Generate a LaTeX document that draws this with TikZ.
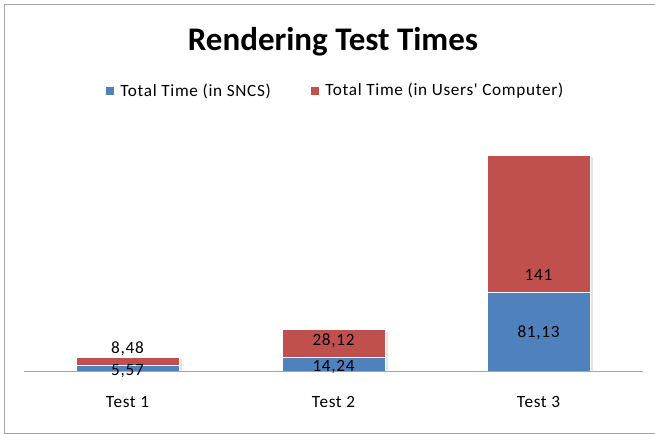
\documentclass[tikz,border=0pt]{standalone}
\usepackage{fontspec}
\setmainfont{Carlito}
\newfontfamily\chartfont[LetterSpace=4]{Carlito}
\usetikzlibrary{positioning}
\definecolor{sncsblue}{RGB}{79,129,189}
\definecolor{userred}{RGB}{192,80,77}
\definecolor{framegray}{RGB}{165,165,165}

\begin{document}
\begin{tikzpicture}[x=1pt,y=-1pt,
    barpart/.style={draw=white,line width=0.7pt},
    valtext/.style={font=\chartfont\fontsize{17.2}{17.2}\selectfont,inner sep=0pt},
    cattext/.style={font=\chartfont\fontsize{17.2}{17.2}\selectfont,inner sep=0pt},
    keybox/.style={minimum size=8pt,inner sep=0pt}]
    \useasboundingbox (0,0) rectangle (655,435);
    % frame
    \draw[framegray,line width=1.5pt] (662,4.5) -- (4.5,4.5) -- (4.5,433.5) -- (662,433.5);
    % title and legend
    \node (title) at (333,42) {\fontsize{33}{33}\selectfont\bfseries Rendering Test Times};
    \node (keysncs) at (110,91) [keybox,fill=sncsblue] {};
    \node (labsncs) [right=6pt of keysncs,valtext] {Total Time (in SNCS)};
    \node (keyuser) at (315,91) [keybox,fill=userred] {};
    \node (labuser) [right=6pt of keyuser,valtext] {Total Time (in Users' Computer)};
    % bars
    \foreach \cx/\b/\r in {127.5/5.57/8.48, 333.5/14.24/28.12, 538.5/81.13/141} {
        \fill[black!10] (\cx+51.5,{371-0.972*(\b+\r)+2}) rectangle (\cx+54,371);
        \fill[barpart,fill=sncsblue] (\cx-51.5,371) rectangle (\cx+51.5,{371-0.972*\b});
        \fill[barpart,fill=userred] (\cx-51.5,{371-0.972*\b}) rectangle (\cx+51.5,{371-0.972*(\b+\r)});
        \draw[barpart] (\cx-51.5,{371-0.972*\b}) -- (\cx+51.5,{371-0.972*\b});
    }
    \draw[framegray,line width=1.5pt] (24,371.5) -- (643,371.5);
    % values
    \node (sncsa) at (127.5,371.5) [valtext] {5,57};
    \node (usera) at (127.5,349) [valtext] {8,48};
    \node (sncsb) at (333.5,367.5) [valtext] {14,24};
    \node (userb) at (333.5,340.5) [valtext] {28,12};
    \node (sncsc) at (538.5,333) [valtext] {81,13};
    \node (userc) at (538.5,275) [valtext] {141};
    % categories
    \node (testa) at (127.5,402) [cattext] {Test 1};
    \node (testb) at (333.5,402) [cattext] {Test 2};
    \node (testc) at (538.5,402) [cattext] {Test 3};
\end{tikzpicture}
\end{document}
